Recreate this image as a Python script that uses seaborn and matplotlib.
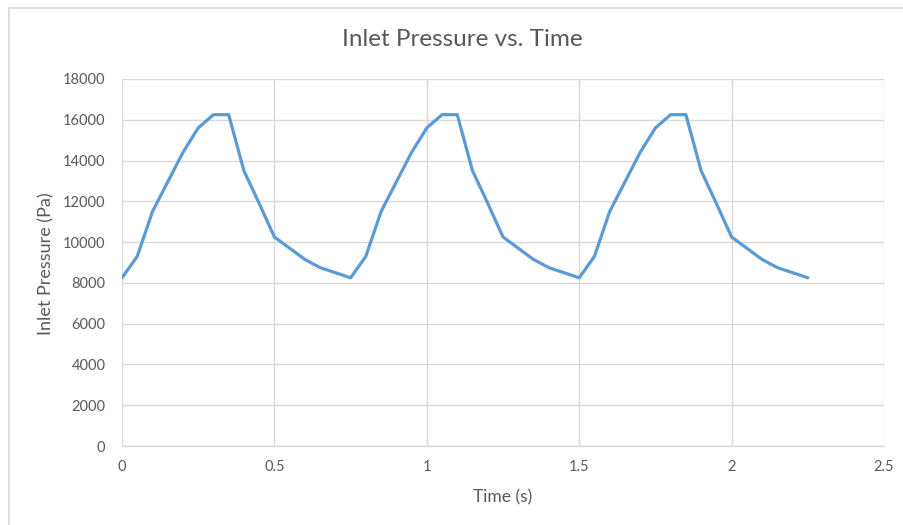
import matplotlib
matplotlib.use("Agg")
import matplotlib.pyplot as plt
from matplotlib.lines import Line2D
import seaborn as sns
import pandas as pd

# Sampled inlet pressure over three cardiac-like cycles (0.05 s step)
time_s = [0.00, 0.05, 0.10, 0.15, 0.20, 0.25, 0.30, 0.35, 0.40, 0.45,
          0.50, 0.55, 0.60, 0.65, 0.70, 0.75, 0.80, 0.85, 0.90, 0.95,
          1.00, 1.05, 1.10, 1.15, 1.20, 1.25, 1.30, 1.35, 1.40, 1.45,
          1.50, 1.55, 1.60, 1.65, 1.70, 1.75, 1.80, 1.85, 1.90, 1.95,
          2.00, 2.05, 2.10, 2.15, 2.20, 2.25]
pressure_pa = [8250, 9300, 11500, 12950, 14400, 15600, 16250, 16250, 13500, 11900,
               10250, 9700, 9150, 8750, 8500, 8250, 9300, 11500, 12950, 14400,
               15600, 16250, 16250, 13500, 11900, 10250, 9700, 9150, 8750, 8500,
               8250, 9300, 11500, 12950, 14400, 15600, 16250, 16250, 13500, 11900,
               10250, 9700, 9150, 8750, 8500, 8250]

x_ticks = [0, 0.5, 1, 1.5, 2, 2.5]
x_tick_labels = ["0", "0.5", "1", "1.5", "2", "2.5"]
y_ticks = [0, 2000, 4000, 6000, 8000, 10000, 12000, 14000, 16000, 18000]

df = pd.DataFrame({"Time (s)": time_s, "Inlet Pressure (Pa)": pressure_pa})

sns.set_style("white")
plt.rcParams["font.family"] = ["Lato", "DejaVu Sans"]

text_color = "#595959"
grid_color = "#D9D9D9"

fig = plt.figure(figsize=(9.04, 5.25), dpi=100)
ax = fig.add_axes([122 / 904, 79 / 525, 762 / 904, 367 / 525])

sns.lineplot(data=df, x="Time (s)", y="Inlet Pressure (Pa)", ax=ax,
             color="#5B9BD5", linewidth=2.3, zorder=3)

ax.set_xlim(0, 2.5)
ax.set_ylim(0, 18000)
ax.set_xticks(x_ticks)
ax.set_xticklabels(x_tick_labels)
ax.set_yticks(y_ticks)
ax.set_yticklabels([str(v) for v in y_ticks])
ax.grid(True, color=grid_color, linewidth=1.0, zorder=0)
ax.set_axisbelow(True)
for side in ["top", "right", "left"]:
    ax.spines[side].set_visible(False)
ax.spines["bottom"].set_color(grid_color)
ax.spines["bottom"].set_linewidth(1.0)
ax.tick_params(axis="both", length=0, labelsize=10.5, colors=text_color)
ax.tick_params(axis="x", pad=10)
ax.tick_params(axis="y", pad=12)

ax.set_xlabel("Time (s)", fontsize=12.5, color=text_color, va="center")
ax.set_ylabel("Inlet Pressure (Pa)", fontsize=13, color=text_color, va="center")
ax.xaxis.set_label_coords((503 - 122) / 762, (446 - 497) / 367)
ax.yaxis.set_label_coords((46 - 122) / 762, (446 - 264) / 367)

fig.text(462 / 904, 1 - 40 / 525, "Inlet Pressure vs. Time", ha="center", va="center",
         fontsize=17.5, color=text_color)

# Chart-area frame (left and top edges)
fig.add_artist(Line2D([9 / 904, 9 / 904], [0, 1 - 8 / 525], transform=fig.transFigure,
                      color=grid_color, linewidth=1.2))
fig.add_artist(Line2D([9 / 904, 1], [1 - 8 / 525, 1 - 8 / 525], transform=fig.transFigure,
                      color=grid_color, linewidth=1.2))

fig.savefig("out.png", dpi=100, facecolor="white")
